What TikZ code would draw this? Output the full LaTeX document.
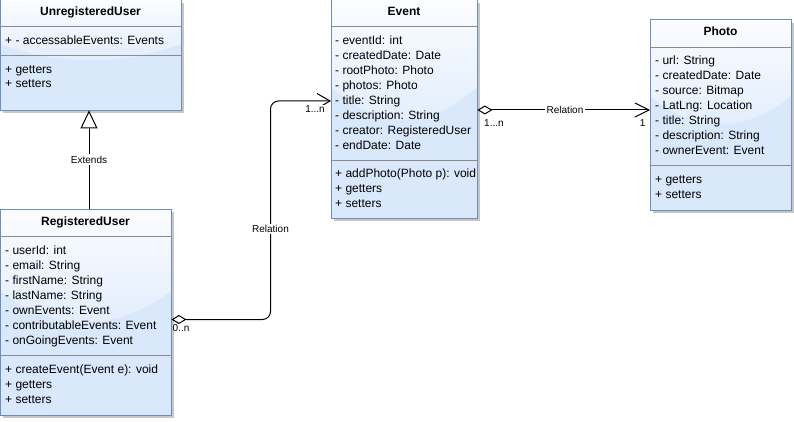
\documentclass[tikz,border=0pt]{standalone}
\usepackage{fontspec}
\setmainfont{Liberation Sans}
\usetikzlibrary{arrows.meta,shadows,calc}
\definecolor{boxfill}{HTML}{DAE8FC}
\definecolor{boxline}{HTML}{6C8EBF}
\definecolor{sepline}{HTML}{8C8C8C}
\newcommand{\glassfx}[4]{%
  \pgfmathsetmacro{\gA}{#2+0.4*(#4-#2)}%
  \pgfmathsetmacro{\gB}{#2+0.6*(#4-#2)}%
  \pgfmathsetmacro{\gL}{#1+(#3-#1)/3}%
  \pgfmathsetmacro{\gR}{#3-(#3-#1)/3}%
  \shade[glass] (#1,#2) -- (#3,#2) -- (#3,\gA) .. controls (\gR,\gB) and (\gL,\gB) .. (#1,\gA) -- cycle;}
\begin{document}
\begin{tikzpicture}[x=1pt,y=-1pt,
  classbox/.style={anchor=north west, inner sep=0pt, fill=boxfill, draw=none,
    drop shadow={shadow xshift=3pt, shadow yshift=-3pt, fill=black!22, opacity=1}},
  border/.style={draw=boxline, line width=1pt},
  sep/.style={draw=sepline, line width=0.8pt},
  glass/.style={top color=white!90!boxfill, bottom color=white!17!boxfill, draw=none},
  ctitle/.style={anchor=base, inner sep=0pt, font=\fontsize{12}{15}\selectfont\bfseries},
  member/.style={anchor=base west, inner sep=0pt, font=\fontsize{12}{15}\selectfont},
  lbl/.style={inner sep=0pt, font=\fontsize{10}{12}\selectfont},
  link/.style={draw=black, line width=1pt},
  lblbg/.style={lbl, fill=white, inner sep=1.5pt},
]
\useasboundingbox (0,0) rectangle (794,422);

% ---------- UnregisteredUser ----------
\node[classbox, minimum width=181pt, minimum height=110pt] (uu) at (0,0) {};
\glassfx{0}{0}{181}{110}
\draw[border] (uu.north west) rectangle (uu.south east);
\draw[sep] (0,26) -- (181,26);
\draw[sep] (0,55) -- (181,55);
\node[ctitle] (uut) at (90.5,15.3) {UnregisteredUser};
\node[member] (uua1) at (5,44.3) {+ - accessableEvents: Events};
\node[member] (uum1) at (5,73.3) {+ getters};
\node[member] (uum2) at (5,87.3) {+ setters};

% ---------- RegisteredUser ----------
\node[classbox, minimum width=171pt, minimum height=206pt] (ru) at (0,209) {};
\glassfx{0}{209}{171}{415}
\draw[border] (ru.north west) rectangle (ru.south east);
\draw[sep] (0,236) -- (171,236);
\draw[sep] (0,355) -- (171,355);
\node[ctitle] (rut) at (85.5,225.3) {RegisteredUser};
\foreach \t [count=\i] in {- userId: int, - email: String, - firstName: String, - lastName: String, - ownEvents: Event, - contributableEvents: Event, - onGoingEvents: Event}
  \node[member] (rua\i) at (5,{254.3+15*(\i-1)}) {\t};
\foreach \t [count=\i] in {+ createEvent(Event e): void, + getters, + setters}
  \node[member] (rum\i) at (5,{373.3+15*(\i-1)}) {\t};

% ---------- Event ----------
\node[classbox, minimum width=146pt, minimum height=218pt] (ev) at (331,0) {};
\glassfx{331}{0}{477}{218}
\draw[border] (ev.north west) rectangle (ev.south east);
\draw[sep] (331,26) -- (477,26);
\draw[sep] (331,160) -- (477,160);
\node[ctitle] (evt) at (404,16) {Event};
\foreach \t [count=\i] in {- eventId: int, - createdDate: Date, - rootPhoto: Photo, - photos: Photo, - title: String, - description: String, - creator: RegisteredUser, - endDate: Date}
  \node[member] (eva\i) at (335,{44.3+15*(\i-1)}) {\t};
\foreach \t [count=\i] in {+ addPhoto(Photo p): void, + getters, + setters}
  \node[member] (evm\i) at (335,{177.3+15*(\i-1)}) {\t};

% ---------- Photo ----------
\node[classbox, minimum width=141pt, minimum height=190pt] (ph) at (650,20) {};
\glassfx{650}{20}{791}{210}
\draw[border] (ph.north west) rectangle (ph.south east);
\draw[sep] (650,47) -- (791,47);
\draw[sep] (650,165) -- (791,165);
\node[ctitle] (pht) at (720.5,35.3) {Photo};
\foreach \t [count=\i] in {- url: String, - createdDate: Date, - source: Bitmap, - LatLng: Location, - title: String, - description: String, - ownerEvent: Event}
  \node[member] (pha\i) at (655,{64.3+15*(\i-1)}) {\t};
\foreach \t [count=\i] in {+ getters, + setters}
  \node[member] (phm\i) at (655,{183.3+14.7*(\i-1)}) {\t};

% ---------- connectors ----------
\coordinate (exX) at (89,0);
\coordinate (relX) at (270.5,0);
\coordinate (ruY) at (0,319.5);
\coordinate (evY) at (0,101);
\coordinate (epY) at (0,110);

\draw[link, -{Triangle[open, length=18pt, width=17pt]}] (ru.north -| exX) -- (uu.south -| exX);
\node[lblbg] (extl) at (89,159.5) {Extends};

\draw[link, rounded corners=8pt, {Diamond[open, fill=white, length=15pt, width=9pt]}-{Straight Barb[length=13pt, width=15pt]}]
  (ru.east |- ruY) -| (relX |- evY) -- (ev.west |- evY);
\node[lblbg] (rel1) at (270.5,229) {Relation};
\node[lbl, anchor=west] (m1) at (172.5,328.3) {0..n};
\node[lbl, anchor=east, fill=white, inner sep=1pt] (m2) at (326,109) {1...n};

\draw[link, {Diamond[open, fill=white, length=15pt, width=9pt]}-{Straight Barb[length=14pt, width=14pt]}]
  (ev.east |- epY) -- (ph.west |- epY);
\node[lblbg] (rel2) at (565,109.5) {Relation};
\node[lbl, anchor=west] (m3) at (484,123.3) {1...n};
\node[lbl, anchor=east] (m4) at (645.5,123.3) {1};
\end{tikzpicture}
\end{document}
